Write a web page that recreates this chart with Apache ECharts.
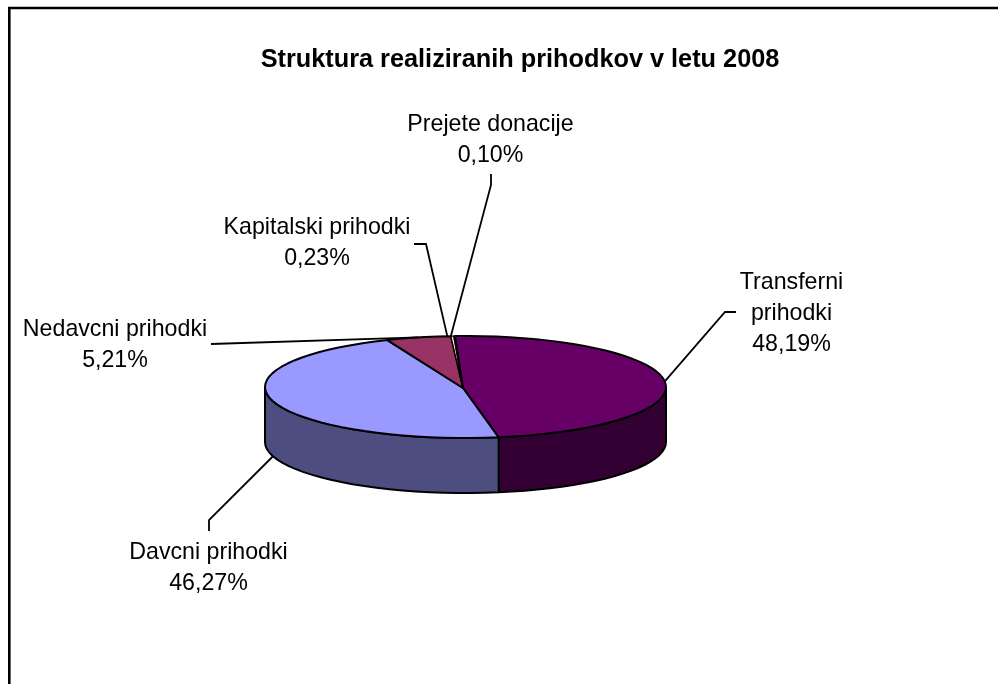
<!DOCTYPE html>
<html>
<head>
<meta charset="utf-8">
<style>html,body{margin:0;padding:0;background:#fff}#c{width:998px;height:684px}</style>
<script src="https://cdn.jsdelivr.net/npm/echarts@6/dist/echarts.min.js"></script>
</head>
<body>
<div id="c"></div>
<script>
// Data
var categories = ['Transferni prihodki', 'Davcni prihodki', 'Nedavcni prihodki', 'Kapitalski prihodki', 'Prejete donacije'];
var shares = [48.19, 46.27, 5.21, 0.23, 0.10];
var chartTitle = 'Struktura realiziranih prihodkov v letu 2008';

// Styles and layout
var topColors = ['#660066', '#9999FF', '#993366', '#FFFFCC', '#CCFFFF'];
var sideColors = ['#330033', '#4D4D80', '#4D1A33', '#808066', '#668080'];
var FONT = '"Liberation Sans", Arial, sans-serif';
var pie = { cx: 465.5, cy: 387, rx: 200.5, ry: 51, depth: 55, start: -3, apexX: 463 };
var labelLayout = [
  { x: 791.5, y: 267.5, wrap: true, path: [[736, 312], [725, 312]] },
  { x: 208.5, y: 537, path: [[209, 531], [209, 520]], front: true },
  { x: 115, y: 314.5, path: [[211, 344]] },
  { x: 317, y: 212.5, path: [[414, 244], [426, 244]], dx: -5 },
  { x: 490.5, y: 109.5, path: [[491, 174], [491, 185]], dx: -3.5 }
];

function pt(t, dy) {
  var a = t * Math.PI / 180;
  return [pie.cx + pie.rx * Math.sin(a), pie.cy - pie.ry * Math.cos(a) + (dy || 0)];
}
function arc(t0, t1, dy) {
  var n = Math.max(1, Math.ceil(Math.abs(t1 - t0) / 4)), out = [];
  for (var i = 0; i <= n; i++) out.push(pt(t0 + (t1 - t0) * i / n, dy));
  return out;
}
var total = shares.reduce(function (a, b) { return a + b; }, 0);

function renderItem(params, api) {
  var i = params.dataIndex, before = 0;
  for (var k = 0; k < i; k++) before += shares[k];
  var t0 = pie.start + before / total * 360;
  var t1 = t0 + api.value(0) / total * 360;
  var children = [];
  var edge = { stroke: '#000', lineWidth: 2, lineJoin: 'round' };

  // front wall: only the part of the slice between 90 and 270 degrees
  var w0 = Math.max(t0, 90), w1 = Math.min(t1, 270);
  if (w1 > w0) {
    var wall = arc(w0, w1, 0).concat(arc(w1, w0, pie.depth));
    children.push({ type: 'polygon', shape: { points: wall },
      style: Object.assign({ fill: sideColors[i] }, edge), z2: 1 });
  }
  // top face
  var top = [[pie.apexX, pie.cy + 1]].concat(arc(t0, t1, 0));
  children.push({ type: 'polygon', shape: { points: top },
    style: Object.assign({ fill: topColors[i] }, edge, { lineWidth: i > 2 ? 1.2 : 2 }), z2: 2 });

  // leader line
  var L = labelLayout[i];
  var anchor = pt((t0 + t1) / 2, L.front ? pie.depth : 0);
  anchor[0] += L.dx || 0;
  children.push({ type: 'polyline', shape: { points: L.path.concat([anchor]) },
    style: { stroke: '#000', lineWidth: 1.8, fill: null }, z2: 5 });

  // label
  var name = L.wrap ? categories[i].replace(' ', '\n') : categories[i];
  var pct = api.value(0).toFixed(2).replace('.', ',') + '%';
  children.push({ type: 'text', x: L.x, y: L.y, z2: 6,
    style: { text: name + '\n' + pct, fill: '#000', font: '23.2px ' + FONT,
      align: 'center', verticalAlign: 'top', lineHeight: 31 } });
  return { type: 'group', children: children };
}

var chart = echarts.init(document.getElementById('c'), null, { renderer: 'canvas' });
chart.setOption({
  animation: false,
  backgroundColor: '#fff',
  title: {
    text: chartTitle, left: 515, top: 43, textAlign: 'center',
    textStyle: { fontFamily: FONT, fontSize: 25.3, fontWeight: 'bold', color: '#000' }
  },
  graphic: [{
    type: 'polyline', silent: true, z: -1,
    shape: { points: [[9.3, 700], [9.3, 8], [1010, 8]] },
    style: { stroke: '#000', lineWidth: 2.6, fill: null }
  }],
  series: [{
    type: 'custom', coordinateSystem: 'none', renderItem: renderItem,
    silent: true, clip: false,
    data: shares.map(function (v, i) { return { name: categories[i], value: [v] }; })
  }]
});
</script>
</body>
</html>
